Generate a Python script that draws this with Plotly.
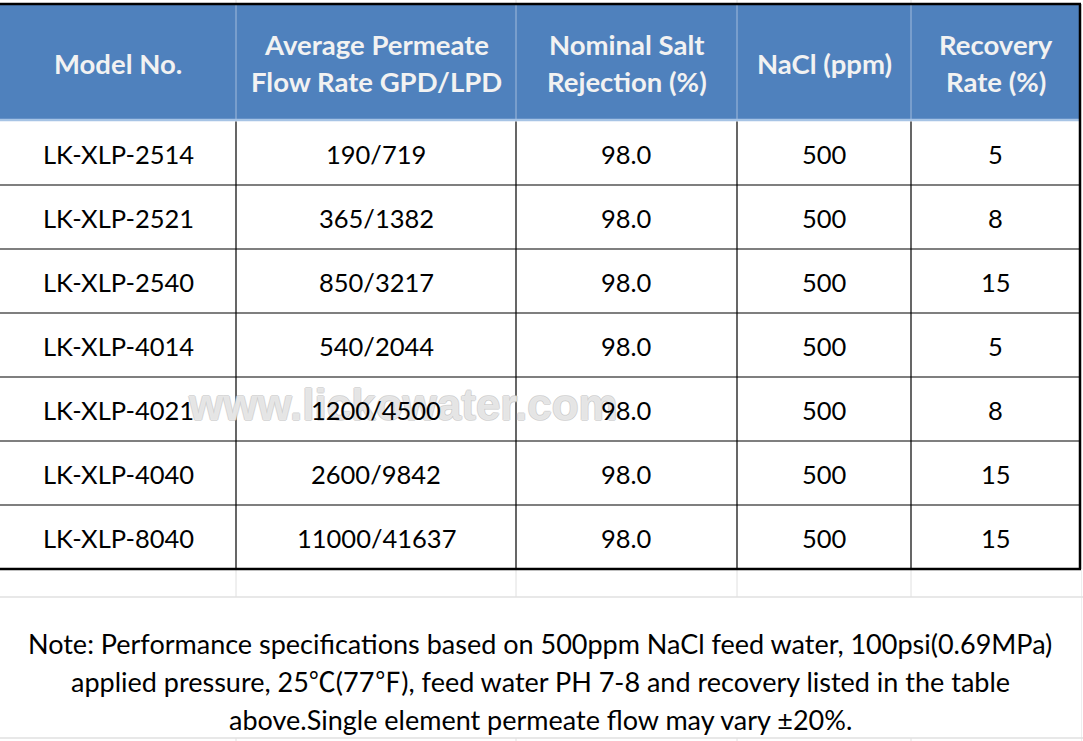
import plotly.graph_objects as go

# ---- data ----
header_lines = [
    ["Model No."],
    ["Average Permeate", "Flow Rate GPD/LPD"],
    ["Nominal Salt", "Rejection (%)"],
    ["NaCl (ppm)"],
    ["Recovery", "Rate (%)"],
]
models = ["LK-XLP-2514", "LK-XLP-2521", "LK-XLP-2540", "LK-XLP-4014",
          "LK-XLP-4021", "LK-XLP-4040", "LK-XLP-8040"]
flow_gpd_lpd = ["190/719", "365/1382", "850/3217", "540/2044",
                "1200/4500", "2600/9842", "11000/41637"]
salt_rejection = [98.0, 98.0, 98.0, 98.0, 98.0, 98.0, 98.0]
nacl_ppm = [500, 500, 500, 500, 500, 500, 500]
recovery_rate = [5, 8, 15, 5, 8, 15, 15]
note_lines = [
    "Note: Performance specifications based on 500ppm NaCl feed water, 100psi(0.69MPa)",
    "applied pressure, 25℃(77℉), feed water PH 7-8 and recovery listed in the table",
    "above.Single element permeate flow may vary ±20%.",
]
watermark = "www.lickowater.com"

# ---- layout geometry (pixels) ----
W, H = 1083, 741
col_edges = [0, 236, 516, 737, 911, 1080]
top_y = 4
header_bottom = 120
row_h = 64
n_rows = len(models)
table_bottom = header_bottom + 1 + row_h * n_rows  # ~569
empty_row_bottom = 597
note_bottom = 738

FONT = "Lato"
HEADER_BG = "#4F81BD"
HEADER_TXT = "#F2F2F2"
HEADER_LINE = "#95B3D7"
GRID_GRAY = "#E0E0E0"

shapes = []
annotations = []

def hline(x0, x1, y, color, width):
    shapes.append(dict(type="line", xref="x", yref="y", x0=x0, x1=x1, y0=y, y1=y,
                       line=dict(color=color, width=width), layer="above"))

def vline(x, y0, y1, color, width):
    shapes.append(dict(type="line", xref="x", yref="y", x0=x, x1=x, y0=y0, y1=y1,
                       line=dict(color=color, width=width), layer="above"))

# faint spreadsheet gridlines outside the table
for x in col_edges[1:-1]:
    vline(x, 0, top_y, GRID_GRAY, 1)
    vline(x, table_bottom, empty_row_bottom, GRID_GRAY, 1)
    vline(x, note_bottom, H, GRID_GRAY, 1)
vline(1081.5, table_bottom, H, "#EEEEEE", 1)
hline(0, W, empty_row_bottom, GRID_GRAY, 1.5)
hline(0, W, note_bottom, GRID_GRAY, 1.5)

# header background
shapes.append(dict(type="rect", xref="x", yref="y", x0=0, x1=col_edges[-1], y0=top_y, y1=header_bottom,
                   fillcolor=HEADER_BG, line=dict(width=0), layer="below"))
for x in col_edges[1:-1]:
    vline(x, top_y, header_bottom, HEADER_LINE, 1.2)
hline(0, col_edges[-1], header_bottom, "#A7C4E5", 2.5)

# body lines
row_edges = [header_bottom + 1 + row_h * i for i in range(n_rows + 1)]
for y in row_edges[1:-1]:
    hline(0, col_edges[-1], y, "#000000", 1.2)
for x in col_edges[1:-1]:
    vline(x, header_bottom + 1.5, table_bottom, "#000000", 1.2)

# outer border
hline(0, col_edges[-1] + 1, top_y, "#000000", 2.5)
hline(0, col_edges[-1] + 1, table_bottom, "#000000", 2.5)
vline(col_edges[-1], top_y, table_bottom, "#000000", 2.5)

col_centers = [(col_edges[i] + col_edges[i + 1]) / 2 for i in range(5)]

# watermark
annotations.append(dict(
    x=403, y=404, xref="x", yref="y", text=watermark, showarrow=False,
    font=dict(family="Liberation Sans", size=44, color="rgba(255,255,255,0.6)",
              weight="bold",
              shadow="-1px 0 #C0C0C0, 1px 0 #C0C0C0, 0 -1px #C0C0C0, 0 1px #C0C0C0"),
    xanchor="center", yanchor="middle"))

# header text
header_center = (top_y + header_bottom) / 2 + 1
for ci, lines in enumerate(header_lines):
    if len(lines) == 1:
        ys = [header_center]
    else:
        ys = [header_center - 18.5, header_center + 18.5]
    for txt, yy in zip(lines, ys):
        annotations.append(dict(
            x=col_centers[ci], y=yy, xref="x", yref="y", text=txt, showarrow=False,
            font=dict(family=FONT, size=27.5, color=HEADER_TXT, weight="bold"),
            xanchor="center", yanchor="middle"))

# body text
for ri in range(n_rows):
    yc = (row_edges[ri] + row_edges[ri + 1]) / 2 + 1
    values = [models[ri], flow_gpd_lpd[ri], f"{salt_rejection[ri]:.1f}",
              str(nacl_ppm[ri]), str(recovery_rate[ri])]
    for ci, v in enumerate(values):
        annotations.append(dict(
            x=col_centers[ci], y=yc, xref="x", yref="y", text=v, showarrow=False,
            font=dict(family=FONT, size=25.5, color="#000000"),
            xanchor="center", yanchor="middle"))

# note
def cjk_symbols(s):
    for ch in ["℃", "℉"]:
        s = s.replace(ch, f"<span style='font-family:\"Noto Sans CJK SC\"'>{ch}</span>")
    return s

note_ys = [643, 680, 719]
for txt, yy in zip(note_lines, note_ys):
    annotations.append(dict(
        x=540, y=yy, xref="x", yref="y", text=cjk_symbols(txt), showarrow=False,
        font=dict(family=FONT, size=27, color="#000000"),
        xanchor="center", yanchor="middle"))

fig = go.Figure()
fig.update_layout(
    width=W, height=H,
    margin=dict(l=0, r=0, t=0, b=0),
    paper_bgcolor="white", plot_bgcolor="white",
    xaxis=dict(range=[0, W], visible=False, fixedrange=True),
    yaxis=dict(range=[H, 0], visible=False, fixedrange=True),
    shapes=shapes, annotations=annotations, showlegend=False,
)
fig.write_html("out.html", config={"displayModeBar": False},
               post_script="document.body.style.margin='0';document.body.style.overflow='hidden';")
